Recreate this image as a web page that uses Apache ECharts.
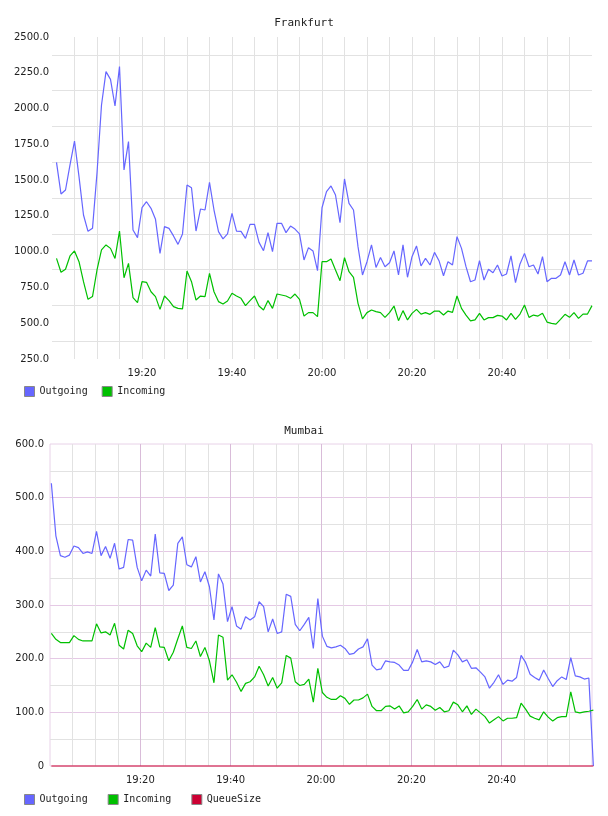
<!DOCTYPE html>
<html>
<head>
<meta charset="utf-8">
<script src="https://cdn.jsdelivr.net/npm/echarts@6/dist/echarts.min.js"></script>
<style>
html, body { margin: 0; padding: 0; background: #fff; }
#main { width: 608px; height: 816px; }
</style>
</head>
<body>
<div id="main"></div>
<script>
// minutes after 19:00 of the first sample, one sample per minute
var frankfurtStart = 1;
var frankfurtOutgoing = [
  1624, 1403, 1431, 1606, 1773, 1524, 1256, 1142, 1163, 1550,
  2025, 2258, 2204, 2018, 2293, 1571, 1769, 1151, 1098, 1307,
  1349, 1303, 1226, 988, 1175, 1163, 1110, 1051, 1124, 1466,
  1447, 1144, 1298, 1291, 1484, 1291, 1140, 1089, 1124, 1268,
  1144, 1142, 1093, 1191, 1191, 1065, 1007, 1133, 1000, 1198,
  1198, 1133, 1179, 1158, 1124, 942, 1028, 1005, 867, 1307,
  1419, 1459, 1396, 1203, 1508, 1338, 1291, 1035, 837, 930,
  1047, 890, 960, 895, 923, 1005, 837, 1047, 821, 965,
  1040, 900, 953, 907, 995, 937, 832, 930, 907, 1105,
  1023, 895, 790, 802, 937, 802, 877, 853, 907, 830,
  844, 970, 783, 914, 988, 895, 907, 844, 965, 790,
  814, 814, 837, 930, 837, 942, 837, 849, 935, 935
];
var frankfurtIncoming = [
  953, 856, 877, 970, 1005, 930, 790, 667, 686, 872,
  1012, 1047, 1023, 953, 1144, 818, 918, 679, 644, 790,
  786, 720, 686, 597, 690, 658, 616, 604, 600, 865,
  790, 662, 690, 686, 849, 720, 651, 634, 655, 709,
  690, 674, 623, 658, 690, 620, 592, 658, 604, 704,
  697, 690, 674, 704, 667, 550, 574, 574, 546, 930,
  930, 949, 872, 797, 958, 860, 821, 639, 530, 574,
  592, 581, 574, 541, 574, 620, 518, 588, 523, 569,
  597, 564, 574, 562, 585, 585, 557, 585, 576, 690,
  604, 557, 516, 523, 569, 523, 539, 539, 555, 550,
  523, 569, 527, 564, 627, 541, 557, 550, 569, 508,
  499, 494, 527, 562, 541, 574, 534, 564, 564, 623
];

// Mumbai samples sit a little after the full minute
var mumbaiStart = 0.3;
var mumbaiOutgoing = [
  527, 429, 392, 389, 393, 410, 407, 396, 399, 396,
  437, 392, 409, 387, 415, 367, 370, 422, 421, 370,
  345, 365, 354, 432, 360, 359, 327, 337, 415, 427,
  375, 371, 390, 343, 362, 334, 272, 358, 339, 269,
  297, 261, 255, 278, 272, 278, 306, 297, 250, 274,
  247, 250, 320, 316, 264, 252, 264, 277, 219, 312,
  242, 223, 220, 222, 225, 219, 208, 210, 218, 222,
  237, 188, 179, 181, 196, 194, 193, 188, 178, 178,
  194, 217, 194, 196, 194, 189, 194, 183, 186, 216,
  207, 194, 198, 182, 183, 175, 166, 145, 156, 170,
  152, 160, 158, 165, 206, 193, 171, 165, 160, 179,
  163, 148, 159, 166, 161, 202, 168, 166, 162, 164,
  0
];
var mumbaiIncoming = [
  247, 236, 230, 230, 230, 243, 236, 233, 233, 233,
  265, 248, 250, 244, 266, 225, 218, 253, 247, 224,
  213, 229, 221, 258, 222, 221, 196, 212, 237, 261,
  221, 219, 233, 204, 221, 196, 155, 244, 240, 160,
  170, 156, 139, 154, 157, 166, 186, 170, 149, 165,
  145, 155, 206, 201, 157, 150, 152, 162, 119, 182,
  137, 128, 124, 124, 131, 126, 115, 123, 123, 127,
  134, 111, 103, 103, 111, 112, 106, 112, 99, 101,
  111, 124, 106, 114, 111, 104, 109, 101, 103, 119,
  114, 101, 112, 96, 106, 99, 92, 80, 86, 92,
  84, 89, 89, 90, 117, 106, 93, 89, 86, 101,
  91, 84, 90, 92, 92, 138, 101, 99, 101, 102,
  104
];
var mumbaiQueueSize = [
  0, 0, 0, 0, 0, 0, 0, 0, 0, 0, 0, 0, 0, 0, 0, 0, 0, 0, 0, 0,
  0, 0, 0, 0, 0, 0, 0, 0, 0, 0, 0, 0, 0, 0, 0, 0, 0, 0, 0, 0,
  0, 0, 0, 0, 0, 0, 0, 0, 0, 0, 0, 0, 0, 0, 0, 0, 0, 0, 0, 0,
  0, 0, 0, 0, 0, 0, 0, 0, 0, 0, 0, 0, 0, 0, 0, 0, 0, 0, 0, 0,
  0, 0, 0, 0, 0, 0, 0, 0, 0, 0, 0, 0, 0, 0, 0, 0, 0, 0, 0, 0,
  0, 0, 0, 0, 0, 0, 0, 0, 0, 0, 0, 0, 0, 0, 0, 0, 0, 0, 0, 0,
  0
];

var seriesNames = ['Outgoing', 'Incoming', 'QueueSize'];
var seriesColors = ['#6666ff', '#00c000', '#cc0033'];

var gray = '#e2e2e2';
var pinkV = '#d9bcd9';
var pinkH = '#e5c9e5';
var labelFont = { fontFamily: 'DejaVu Sans', fontSize: 10, color: '#222' };
var monoFont = { fontFamily: 'DejaVu Sans Mono', fontSize: 10, color: '#222' };

function toPoints(values, start) {
  return values.map(function (v, i) { return [start + i, v]; });
}

// 20 -> "19:20", only the inner 20 minute marks get a label
function clockLabel(m) {
  if (m <= 0 || m >= 120) return '';
  var h = 19 + Math.floor(m / 60), mm = m % 60;
  return h + ':' + (mm < 10 ? '0' : '') + mm;
}

function timeAxis(gridIndex, majorColor) {
  return {
    type: 'value', gridIndex: gridIndex,
    min: 0, max: 120, interval: 20,
    axisLine: { show: false }, axisTick: { show: false },
    axisLabel: Object.assign({ formatter: clockLabel, margin: 9 }, labelFont),
    splitLine: { show: true, showMinLine: false, showMaxLine: false, lineStyle: { color: majorColor, width: 1 } },
    minorTick: { show: false, splitNumber: 4 },
    minorSplitLine: { show: true, lineStyle: { color: gray, width: 1 } }
  };
}

function line(name, values, start, idx) {
  return {
    name: name, type: 'line',
    xAxisIndex: idx, yAxisIndex: idx,
    data: toPoints(values, start),
    showSymbol: false, symbol: 'none',
    color: seriesColors[seriesNames.indexOf(name)],
    lineStyle: { width: 1.2 },
    clip: false,
    emphasis: { disabled: true }
  };
}

var chart = echarts.init(document.getElementById('main'));

chart.setOption({
  animation: false,
  title: [
    { text: 'Frankfurt', left: 'center', top: 13, textStyle: { fontFamily: 'DejaVu Sans Mono', fontSize: 11, fontWeight: 'normal', color: '#222' } },
    { text: 'Mumbai', left: 'center', top: 421, textStyle: { fontFamily: 'DejaVu Sans Mono', fontSize: 11, fontWeight: 'normal', color: '#222' } }
  ],
  legend: [
    {
      data: ['Outgoing', 'Incoming'], left: 24, top: 386, padding: 0,
      icon: 'rect', itemWidth: 10, itemHeight: 10, itemGap: 14,
      itemStyle: { borderColor: '#888', borderWidth: 1 },
      textStyle: monoFont
    },
    {
      data: ['Outgoing', 'Incoming', 'QueueSize'], left: 24, top: 794, padding: 0,
      icon: 'rect', itemWidth: 10, itemHeight: 10, itemGap: 20,
      itemStyle: { borderColor: '#888', borderWidth: 1 },
      textStyle: monoFont
    }
  ],
  grid: [
    { left: 52, width: 540, top: 37, height: 322 },
    { left: 50, width: 542, top: 444, height: 322, show: true, borderColor: '#e8d2e8', borderWidth: 1 }
  ],
  xAxis: [timeAxis(0, gray), timeAxis(1, pinkV)],
  yAxis: [
    {
      type: 'value', gridIndex: 0, min: 250, max: 2500, interval: 250,
      axisLine: { show: false }, axisTick: { show: false },
      axisLabel: Object.assign({ margin: 3, formatter: function (v) { return v.toFixed(1); } }, labelFont),
      splitLine: { show: false },
      minorTick: { show: false, splitNumber: 2 },
      minorSplitLine: { show: true, lineStyle: { color: gray, width: 1 } }
    },
    {
      type: 'value', gridIndex: 1, min: 0, max: 600, interval: 100,
      axisLine: { show: false }, axisTick: { show: false },
      axisLabel: Object.assign({ margin: 6, formatter: function (v) { return v === 0 ? '0' : v.toFixed(1); } }, labelFont),
      splitLine: { show: true, showMinLine: false, showMaxLine: false, lineStyle: { color: pinkH, width: 1 } },
      minorTick: { show: false, splitNumber: 2 },
      minorSplitLine: { show: true, lineStyle: { color: gray, width: 1 } }
    }
  ],
  series: [
    line('Outgoing', frankfurtOutgoing, frankfurtStart, 0),
    line('Incoming', frankfurtIncoming, frankfurtStart, 0),
    line('Outgoing', mumbaiOutgoing, mumbaiStart, 1),
    line('Incoming', mumbaiIncoming, mumbaiStart, 1),
    line('QueueSize', mumbaiQueueSize, mumbaiStart, 1)
  ]
});
</script>
</body>
</html>
